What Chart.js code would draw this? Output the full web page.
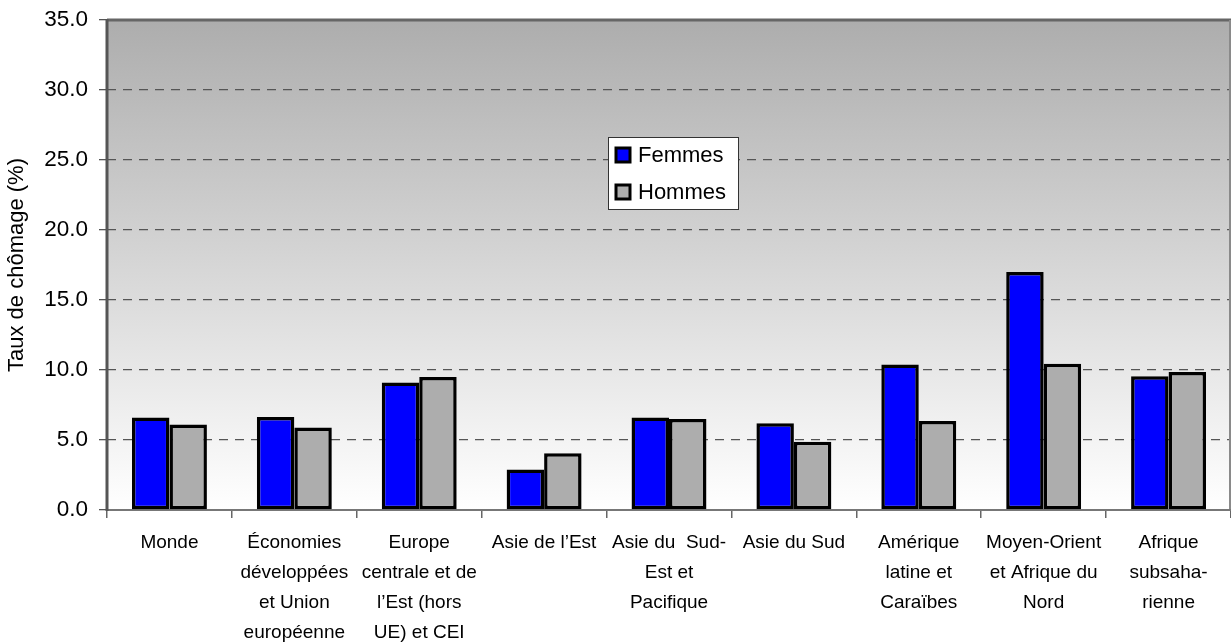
<!DOCTYPE html>
<html>
<head>
<meta charset="utf-8">
<script src="https://cdn.jsdelivr.net/npm/chart.js@4.4.1/dist/chart.umd.min.js"></script>
<style>
  html, body { margin: 0; padding: 0; background: #fff; }
  #wrap { width: 1231px; height: 642px; position: relative; }
</style>
</head>
<body>
<div id="wrap"><canvas id="chomageChart"></canvas></div>
<script>
// catégories (régions) et taux de chômage
const regions = [
    'Monde',
    ['Économies', 'développées', 'et Union', 'européenne'],
    ['Europe', 'centrale et de', 'l’Est (hors', 'UE) et CEI'],
    'Asie de l’Est',
    ['Asie du  Sud-', 'Est et', 'Pacifique'],
    'Asie du Sud',
    ['Amérique', 'latine et', 'Caraïbes'],
    ['Moyen-Orient', 'et Afrique du', 'Nord'],
    ['Afrique', 'subsaha-', 'rienne']
];
const femmes = [6.6, 6.65, 9.1, 2.9, 6.6, 6.2, 10.4, 17.0, 9.55];
const hommes = [6.1, 5.9, 9.5, 4.05, 6.5, 4.87, 6.35, 10.45, 9.85];
const yTicks = [0, 5, 10, 15, 20, 25, 30, 35];

const FONT = 'Arial, "Liberation Sans", sans-serif';

// fond dégradé gris -> blanc dans la zone du graphique + cadre
const fondPlugin = {
    id: 'fond',
    beforeDraw(chart) {
        const { ctx, chartArea: a } = chart;
        const g = ctx.createLinearGradient(0, a.top, 0, a.bottom);
        g.addColorStop(0, '#adadad');
        g.addColorStop(1, '#ffffff');
        ctx.save();
        ctx.fillStyle = g;
        ctx.fillRect(a.left, a.top, a.right - a.left, a.bottom - a.top);
        ctx.restore();
    },
    beforeDatasetsDraw(chart) {
        const { ctx, chartArea: a } = chart;
        ctx.save();
        // haut
        ctx.strokeStyle = '#666';
        ctx.lineWidth = 3;
        ctx.beginPath();
        ctx.moveTo(a.left, a.top);
        ctx.lineTo(a.right, a.top);
        ctx.stroke();
        // droite
        ctx.strokeStyle = '#8a8a8a';
        ctx.lineWidth = 2;
        ctx.beginPath();
        ctx.moveTo(a.right - 1, a.top);
        ctx.lineTo(a.right - 1, a.bottom);
        ctx.stroke();
        // axe bas
        ctx.strokeStyle = '#777';
        ctx.lineWidth = 2;
        ctx.beginPath();
        ctx.moveTo(a.left, a.bottom);
        ctx.lineTo(a.right, a.bottom);
        ctx.stroke();
        // axe gauche
        ctx.strokeStyle = '#555';
        ctx.lineWidth = 3;
        ctx.beginPath();
        ctx.moveTo(a.left, a.top - 1);
        ctx.lineTo(a.left, a.bottom + 1);
        ctx.stroke();
        ctx.restore();
    }
};

// légende encadrée au milieu du graphique
const legendePlugin = {
    id: 'legende',
    afterDatasetsDraw(chart) {
        const ctx = chart.ctx;
        const x = 608, y = 137, w = 130, h = 72;
        ctx.save();
        ctx.fillStyle = '#fff';
        ctx.fillRect(x, y, w, h);
        ctx.strokeStyle = '#333';
        ctx.lineWidth = 1;
        ctx.strokeRect(x + 0.5, y + 0.5, w, h);
        ctx.font = '22px ' + FONT;
        ctx.textBaseline = 'middle';
        chart.data.datasets.forEach((ds, i) => {
            const cy = 155 + i * 37;
            ctx.fillStyle = ds.backgroundColor;
            ctx.fillRect(616, cy - 7, 14, 14);
            ctx.strokeStyle = '#000';
            ctx.lineWidth = 3;
            ctx.strokeRect(616, cy - 7, 14, 14);
            ctx.fillStyle = '#000';
            ctx.fillText(ds.label, 638, cy + 1);
        });
        ctx.restore();
    }
};

const ctx = document.getElementById('chomageChart').getContext('2d');
new Chart(ctx, {
    type: 'bar',
    data: {
        labels: regions,
        datasets: [
            {
                label: 'Femmes',
                data: femmes,
                backgroundColor: '#0000ff',
                borderColor: '#000',
                borderWidth: 3.5,
                borderSkipped: false
            },
            {
                label: 'Hommes',
                data: hommes,
                backgroundColor: '#adadad',
                borderColor: '#000',
                borderWidth: 3.5,
                borderSkipped: false
            }
        ]
    },
    options: {
        responsive: true,
        maintainAspectRatio: false,
        animation: false,
        layout: { padding: { top: 20, right: 0, left: 0, bottom: 0 } },
        datasets: {
            bar: { categoryPercentage: 0.6, barPercentage: 1.0 }
        },
        plugins: {
            legend: { display: false },
            tooltip: { enabled: false }
        },
        scales: {
            x: {
                grid: {
                    drawOnChartArea: false,
                    drawTicks: true,
                    tickLength: 8,
                    tickColor: '#666',
                    lineWidth: 1.5
                },
                border: { display: false },
                ticks: {
                    autoSkip: false,
                    maxRotation: 0,
                    minRotation: 0,
                    padding: 10,
                    color: '#000',
                    font: { family: FONT, size: 19, lineHeight: 1.57 }
                },
                afterFit(scale) { scale.height = 132; }
            },
            y: {
                min: 0,
                max: 35,
                afterBuildTicks(scale) {
                    scale.ticks = yTicks.map(v => ({ value: v }));
                },
                grid: {
                    color: c => (c.tick && (c.tick.value === 0 || c.tick.value === 35)) ? 'rgba(0,0,0,0)' : '#555',
                    lineWidth: 1.3,
                    tickLength: 8,
                    tickColor: '#555'
                },
                border: { display: false, dash: [9, 7] },
                ticks: {
                    padding: 11,
                    color: '#000',
                    font: { family: FONT, size: 22.5, lineHeight: 0.7 },
                    callback: v => Number(v).toFixed(1)
                },
                title: {
                    display: true,
                    text: 'Taux de chômage (%)',
                    color: '#000',
                    font: { family: FONT, size: 22 },
                    padding: { top: 4, bottom: 0 }
                },
                afterFit(scale) { scale.width = 107; }
            }
        }
    },
    plugins: [fondPlugin, legendePlugin]
});
</script>
</body>
</html>
